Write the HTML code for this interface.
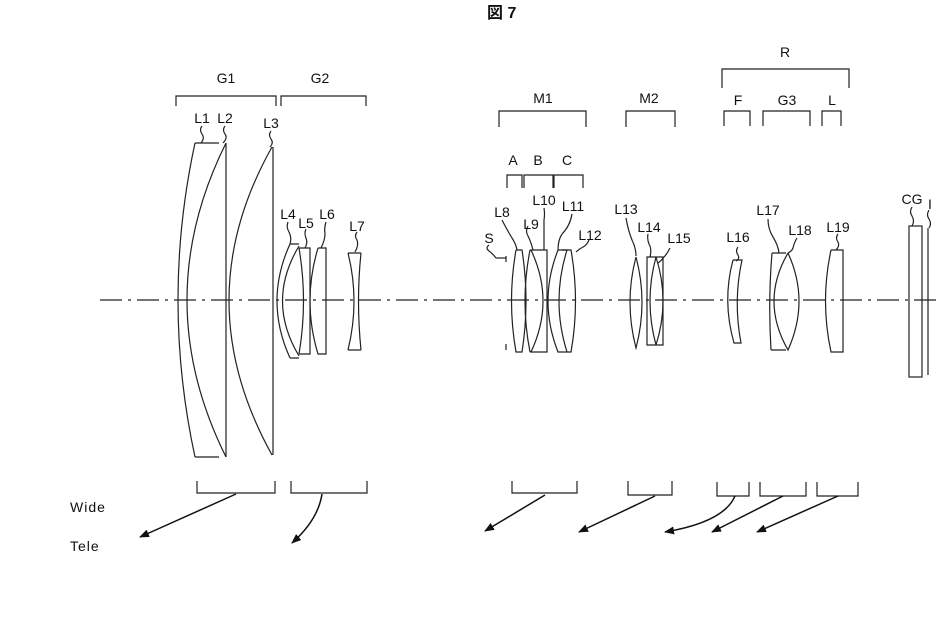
<!DOCTYPE html>
<html><head><meta charset="utf-8"><style>
html,body{margin:0;padding:0;background:#fff;}
svg{display:block;}
text{font-family:"Liberation Sans","Noto Sans CJK JP",sans-serif;font-size:14px;fill:#111;}
</style></head><body>
<svg width="936" height="640" viewBox="0 0 936 640" xmlns="http://www.w3.org/2000/svg">
<defs><marker id="ah" markerWidth="10" markerHeight="8" refX="9" refY="4" orient="auto" markerUnits="userSpaceOnUse"><path d="M0,0 L10,4 L0,8 Z" fill="#111"/></marker></defs>
<text x="487" y="18" style="font-size:16px;font-weight:bold">図 7</text>
<g fill="none" stroke="#222" stroke-width="1.2">
<path d="M100,300 H936" stroke-dasharray="22,6,3,6"/>
<path d="M176,106 V96 H276 V106"/>
<path d="M281,106 V96 H366 V106"/>
<path d="M499,127 V111 H586 V127"/>
<path d="M626,127 V111 H675 V127"/>
<path d="M722,88 V69 H849 V88"/>
<path d="M724,126 V111 H750 V126"/>
<path d="M763,126 V111 H810 V126"/>
<path d="M822,126 V111 H841 V126"/>
<path d="M507,188 V175 H522 V188"/>
<path d="M524,188 V175 H553 V188"/>
<path d="M554,188 V175 H583 V188"/>
<path d="M197,481 V493 H275 V481"/>
<path d="M291,481 V493 H367 V481"/>
<path d="M512,481 V493 H577 V481"/>
<path d="M628,481 V495 H672 V481"/>
<path d="M717,482 V496 H749 V482"/>
<path d="M760,482 V496 H806 V482"/>
<path d="M817,482 V496 H858 V482"/>
<path d="M195,143 H219 M195,457 H219 M195,143 Q161,300 195,457"/>
<path d="M226,143 Q148,300 226,457"/>
<path d="M226,143 V457"/>
<path d="M272,147 Q186,300 272,455 M273,147 V455"/>
<path d="M290,244 H299 M290,358 H299 M290,244 Q264,301 290,358 M299,246 Q266,301 299,356"/>
<path d="M299,248 H310 V354 H299 M299,248 Q308,301 299,354"/>
<path d="M318,248 H326 V354 H318 Q302,301 318,248"/>
<path d="M348,253 H361 M348,350 H361 M348,253 Q360,301 348,350 M361,253 Q356,301 361,350"/>
<path d="M506,256 V262 M506,344 V350"/>
<path d="M496,258 H506"/>
<path d="M516,250 H522 Q530,301 522,352 H516 Q507,301 516,250"/>
<path d="M530,250 H547 V352 H530 M530,250 Q520,301 530,352"/>
<path d="M531,250 Q555,301 531,352"/>
<path d="M558,250 Q538,301 558,352 H562 M558,250 H567 Q551,301 567,352"/>
<path d="M562,250 H571 Q580,301 571,352 H562"/>
<path d="M636,257 Q624,302 636,348 Q648,302 636,257"/>
<path d="M647,257 H663 V345 H647 Z"/>
<path d="M656,257 Q644,301 656,345 M656,257 Q670,301 656,345"/>
<path d="M733,260 H742 Q733,301 741,343 H734 Q722,301 733,260"/>
<path d="M772,253 H786 M771,350 H786 M772,253 Q768,301 771,350"/>
<path d="M788,253 Q760,301 788,350 Q810,301 788,253"/>
<path d="M831,250 H843 V352 H831 Q820,301 831,250"/>
<rect x="909" y="226" width="13" height="151"/>
<path d="M928,228 V375"/>
<path d="M202,126 q-3,4 0,8 q3,4 -1,9"/>
<path d="M225,126 q-3,4 0,8 q3,4 -2,9"/>
<path d="M271,131 q-3,4 0,8 q3,4 -1,8"/>
<path d="M288,222 q-2,5 1,10 q3,6 1,12"/>
<path d="M306,229 q-2,4 0,9 q2,5 -1,10"/>
<path d="M326,222 q-2,6 -1,12 q0,6 -4,14"/>
<path d="M357,232 q-3,4 0,8 q2,5 -2,12"/>
<path d="M502,220 q4,8 10,18 q4,6 5,12"/>
<path d="M489,245 q-4,3 0,6 q3,2 7,7"/>
<path d="M528,226 q-3,5 0,10 q3,6 5,14"/>
<path d="M544,208 q1,6 0,12 q0,15 0,30"/>
<path d="M572,214 q-2,12 -10,20 q-4,6 -4,16"/>
<path d="M589,240 q-2,5 -6,7 q-4,2 -7,5"/>
<path d="M626,218 q2,12 6,22 q4,8 4,16"/>
<path d="M648,234 q-1,5 1,10 q3,5 1,13"/>
<path d="M670,248 q-3,6 -6,9 q-3,4 -6,6"/>
<path d="M738,247 q-3,4 0,8 q2,4 -2,6"/>
<path d="M768,219 q0,10 5,18 q5,8 6,16"/>
<path d="M797,238 q-3,5 -4,10 q-1,3 -5,5"/>
<path d="M838,234 q-3,4 0,8 q2,4 -2,8"/>
<path d="M912,207 q-3,5 0,9 q3,5 0,10"/>
<path d="M929,210 q-3,5 0,9 q3,5 0,9"/>
</g>
<g fill="none" stroke="#111" stroke-width="1.5" marker-end="url(#ah)">
<path d="M236,494 L140,537"/>
<path d="M322,494 Q318,520 292,543"/>
<path d="M545,495 L485,531"/>
<path d="M655,496 L579,532"/>
<path d="M735,496 Q724,522 665,532"/>
<path d="M783,496 L712,532"/>
<path d="M838,496 L757,532"/>
</g>
<g text-anchor="middle">
<text x="226" y="83">G1</text>
<text x="320" y="83">G2</text>
<text x="543" y="103">M1</text>
<text x="649" y="103">M2</text>
<text x="785" y="57">R</text>
<text x="738" y="105">F</text>
<text x="787" y="105">G3</text>
<text x="832" y="105">L</text>
<text x="513" y="165">A</text>
<text x="538" y="165">B</text>
<text x="567" y="165">C</text>
<text x="202" y="123">L1</text>
<text x="225" y="123">L2</text>
<text x="271" y="128">L3</text>
<text x="288" y="219">L4</text>
<text x="306" y="228">L5</text>
<text x="327" y="219">L6</text>
<text x="357" y="231">L7</text>
<text x="502" y="217">L8</text>
<text x="489" y="243">S</text>
<text x="531" y="229">L9</text>
<text x="544" y="205">L10</text>
<text x="573" y="211">L11</text>
<text x="590" y="240">L12</text>
<text x="626" y="214">L13</text>
<text x="649" y="232">L14</text>
<text x="679" y="243">L15</text>
<text x="738" y="242">L16</text>
<text x="768" y="215">L17</text>
<text x="800" y="235">L18</text>
<text x="838" y="232">L19</text>
<text x="912" y="204">CG</text>
<text x="930" y="209">I</text>
</g>
<text x="70" y="512" style="letter-spacing:1px">Wide</text>
<text x="70" y="551" style="letter-spacing:1px">Tele</text>
</svg>
</body></html>
